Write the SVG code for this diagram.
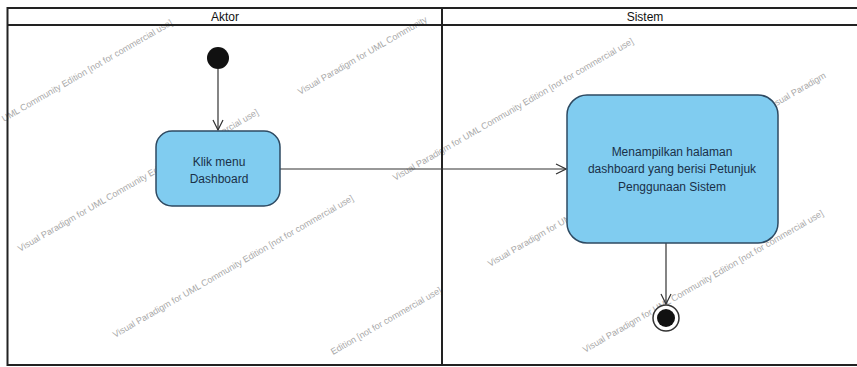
<svg xmlns="http://www.w3.org/2000/svg" width="857" height="367" viewBox="0 0 857 367">
<style>
.frame{fill:none;stroke:#222;stroke-width:2}
.hdr{font-family:"Liberation Sans",Arial,sans-serif;font-size:12px;fill:#111;text-anchor:middle}
.act{fill:#80ccf0;stroke:#2e4a62;stroke-width:1.5}
.lbl{font-family:"Liberation Sans",Arial,sans-serif;font-size:12px;fill:#1a3048;text-anchor:middle}
.edge{fill:none;stroke:#333;stroke-width:1.2}
.wm{font-family:"Liberation Sans",Arial,sans-serif;font-size:9px;fill:#8c8c8c;opacity:0.75}
</style>
<defs>
<marker id="open" viewBox="0 0 12 12" refX="11" refY="6" markerWidth="12" markerHeight="12" markerUnits="userSpaceOnUse" orient="auto">
<path d="M1,1 L11,6 L1,11" fill="none" stroke="#333" stroke-width="1.2"/>
</marker>
</defs>
<rect width="857" height="367" fill="#fff"/>
<g id="watermarks">
<text class="wm" transform="translate(4,122) rotate(-30)">UML Community Edition [not for commercial use]</text>
<text class="wm" transform="translate(300,95) rotate(-30)">Visual Paradigm for UML Community</text>
<text class="wm" transform="translate(20,252) rotate(-30)">Visual Paradigm for UML Community Edition [not for commercial use]</text>
<text class="wm" transform="translate(115,338) rotate(-30)">Visual Paradigm for UML Community Edition [not for commercial use]</text>
<text class="wm" transform="translate(395,181) rotate(-30)">Visual Paradigm for UML Community Edition [not for commercial use]</text>
<text class="wm" transform="translate(490,267) rotate(-30)">Visual Paradigm for UML Community Edition [not for commercial use]</text>
<text class="wm" transform="translate(770,110) rotate(-30)">Visual Paradigm</text>
<text class="wm" transform="translate(333,355) rotate(-30)">Edition [not for commercial use]</text>
<text class="wm" transform="translate(585,353) rotate(-30)">Visual Paradigm for UML Community Edition [not for commercial use]</text>
</g>
<g id="swimlanes">
<path class="frame" d="M870,8 H7.5 V365 H870"/>
<line class="frame" x1="7.5" y1="25" x2="870" y2="25"/>
<line class="frame" x1="442" y1="8" x2="442" y2="365"/>
<text class="hdr" x="225" y="21">Aktor</text>
<text class="hdr" x="645" y="21">Sistem</text>
</g>
<g id="connectors">
<line class="edge" x1="218" y1="69" x2="218" y2="130" marker-end="url(#open)"/>
<line class="edge" x1="280" y1="169" x2="566" y2="169" marker-end="url(#open)"/>
<line class="edge" x1="666" y1="243" x2="666" y2="304" marker-end="url(#open)"/>
</g>
<g id="start">
<circle cx="218" cy="58" r="11" fill="#111"/>
</g>
<g id="klik-menu-dashboard">
<rect class="act" x="156" y="131" width="124" height="75" rx="16"/>
<text class="lbl" x="219" y="166">Klik menu</text>
<text class="lbl" x="219" y="183">Dashboard</text>
</g>
<g id="menampilkan-halaman">
<rect class="act" x="567" y="95" width="211" height="148" rx="20"/>
<text class="lbl" x="672" y="156">Menampilkan halaman</text>
<text class="lbl" x="672" y="173">dashboard yang berisi Petunjuk</text>
<text class="lbl" x="672" y="191">Penggunaan Sistem</text>
</g>
<g id="end">
<circle cx="666" cy="318" r="13" fill="#fff" stroke="#333" stroke-width="1.5"/>
<circle cx="666" cy="318" r="9" fill="#111"/>
</g>
</svg>
